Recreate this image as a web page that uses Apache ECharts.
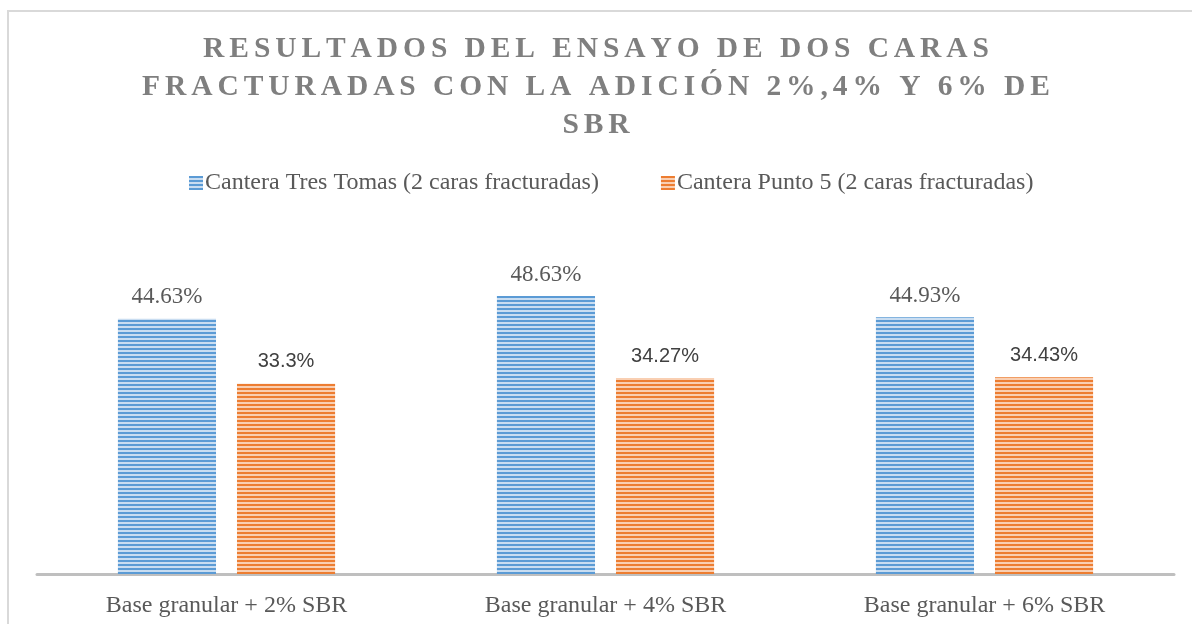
<!DOCTYPE html>
<html>
<head>
<meta charset="utf-8">
<script src="https://cdn.jsdelivr.net/npm/echarts@6/dist/echarts.min.js"></script>
<style>
  html, body { margin: 0; padding: 0; background: #ffffff; }
  #chart { width: 1192px; height: 624px; }
</style>
</head>
<body>
<div id="chart"></div>
<script>
// Chart data
const titleLines = ['RESULTADOS DEL ENSAYO DE DOS CARAS', 'FRACTURADAS CON LA ADICIÓN 2%,4% Y 6% DE', 'SBR'];
const categories = ['Base granular + 2% SBR', 'Base granular + 4% SBR', 'Base granular + 6% SBR'];
const seriesNames = ['Cantera Tres Tomas (2 caras fracturadas)', 'Cantera Punto 5 (2 caras fracturadas)'];
const tresTomas = [44.63, 48.63, 44.93];
const punto5 = [33.3, 34.27, 34.43];

// Spaced-out capitals for the heading (six-per-em space between letters)
function spaced(s) { return Array.from(s).join('\u2006'); }

// Horizontal stripe fill for the bars
function stripes(dark, light) {
  const c = document.createElement('canvas');
  c.width = 8; c.height = 4;
  const g = c.getContext('2d');
  g.fillStyle = light; g.fillRect(0, 0, 8, 4);
  g.fillStyle = dark; g.fillRect(0, 0, 8, 2);
  return { image: c, repeat: 'repeat' };
}
const blueFill = stripes('#5b9bd5', '#c9ddf1');
const orangeFill = stripes('#ed7d31', '#f9cfb2');

const serif = '"Liberation Serif", "Times New Roman", serif';
const sans = '"Liberation Sans", Arial, sans-serif';

const chart = echarts.init(document.getElementById('chart'), null, { renderer: 'canvas' });
chart.setOption({
  animation: false,
  backgroundColor: '#ffffff',
  title: {
    text: titleLines.map(spaced).join('\n'),
    left: 'center',
    top: 30,
    padding: 0,
    textStyle: {
      fontFamily: serif,
      fontWeight: 'bold',
      fontSize: 29.5,
      lineHeight: 38,
      color: '#7f7f7f'
    }
  },
  graphic: [{
    type: 'rect',
    shape: { x: 8, y: 11, width: 1300, height: 800 },
    style: { fill: 'none', stroke: '#d9d9d9', lineWidth: 2 },
    silent: true
  }],
  legend: {
    top: 166,
    left: 184,
    itemWidth: 14,
    itemHeight: 14,
    itemGap: 62,
    icon: 'rect',
    textStyle: { fontFamily: serif, fontSize: 24, color: '#595959', padding: [0, 0, 0, -3] },
    data: seriesNames
  },
  grid: { left: 37, right: 18, top: 231, bottom: 50 },
  xAxis: {
    type: 'category',
    data: categories,
    axisLine: { lineStyle: { color: '#bfbfbf', width: 3 } },
    axisTick: { show: false },
    axisLabel: { fontFamily: serif, fontSize: 24, color: '#595959', margin: 20 }
  },
  yAxis: {
    type: 'value',
    min: 0,
    max: 60,
    show: false,
    splitLine: { show: false }
  },
  series: [
    {
      name: seriesNames[0],
      type: 'bar',
      data: tresTomas,
      barGap: '21.4%',
      barCategoryGap: '42.7%',
      itemStyle: { color: blueFill },
      label: {
        show: true,
        position: 'top',
        distance: 10,
        formatter: p => p.value + '%',
        fontFamily: serif,
        fontSize: 23,
        color: '#595959'
      }
    },
    {
      name: seriesNames[1],
      type: 'bar',
      data: punto5,
      itemStyle: { color: orangeFill },
      label: {
        show: true,
        position: 'top',
        distance: 12,
        formatter: p => p.value + '%',
        fontFamily: sans,
        fontSize: 20,
        color: '#404040'
      }
    }
  ]
});
</script>
</body>
</html>
